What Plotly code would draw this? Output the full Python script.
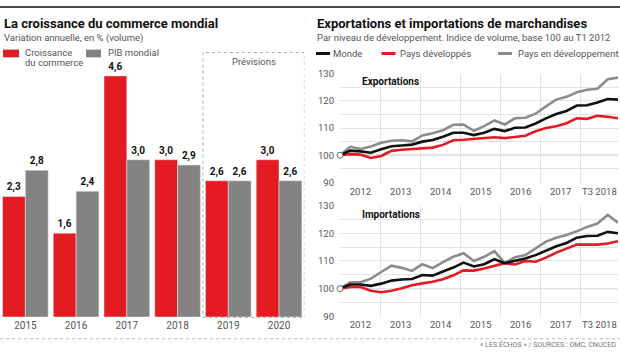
import plotly.graph_objects as go

W, H = 620, 353
def px(x): return x / W
def py(y): return 1 - y / H

# ---------------- DATA ----------------
years = ["2015", "2016", "2017", "2018", "2019", "2020"]
trade_growth = [2.3, 1.6, 4.6, 3.0, 2.6, 3.0]
gdp_growth = [2.8, 2.4, 3.0, 2.9, 2.6, 2.6]

q_index = list(range(28))  # quarters from T1 2012
exp_world = [100, 101.7, 101.4, 100.9, 102.2, 103.3, 103.6, 103.9, 105.0, 105.6, 106.8, 108.3, 108.3, 107.4,
             108.3, 109.7, 108.9, 110.1, 110.2, 111.7, 113.6, 115.2, 116.3, 118.3, 118.4, 119.4, 120.7, 120.5]
exp_dev = [100, 100.4, 100.2, 99.0, 99.7, 101.6, 102.0, 102.3, 102.5, 102.8, 103.8, 105.5, 105.7, 106.0,
           106.1, 106.6, 106.3, 106.7, 107.2, 108.8, 110.0, 110.7, 111.8, 113.6, 113.4, 114.5, 114.2, 113.6]
exp_emg = [100, 103.1, 102.3, 103.2, 104.6, 105.3, 105.5, 105.1, 107.3, 108.1, 109.2, 111.2, 111.3, 109.0,
           110.7, 112.8, 111.3, 113.6, 113.8, 115.3, 118.0, 120.5, 121.5, 123.2, 124.1, 124.5, 128.0, 128.6]

imp_world = [100, 101.5, 101.5, 101.0, 101.8, 102.9, 103.3, 103.5, 104.9, 104.7, 106.2, 107.6, 109.4, 108.0,
             108.8, 110.6, 109.2, 110.0, 110.9, 112.1, 113.8, 115.3, 116.5, 118.4, 119.0, 119.1, 120.5, 120.0]
imp_dev = [100, 100.6, 100.6, 99.2, 98.7, 99.2, 100.1, 101.2, 101.9, 102.5, 103.4, 104.8, 106.6, 106.5,
           107.3, 108.3, 109.2, 108.7, 110.0, 109.7, 111.2, 113.0, 114.5, 115.9, 115.9, 115.9, 116.3, 117.1]
imp_emg = [100, 102.3, 102.3, 103.6, 106.0, 108.3, 107.5, 106.4, 108.8, 107.4, 109.6, 111.5, 112.8, 110.0,
           111.5, 113.5, 109.3, 111.3, 112.1, 114.7, 117.0, 118.4, 119.4, 120.7, 122.3, 123.5, 126.6, 123.8]

year_labels = ["2012", "2013", "2014", "2015", "2016", "2017", "T3 2018"]
year_label_pos = [1.98, 5.9, 9.78, 13.66, 17.55, 21.43, 25.19]
year_grid_pos = [3.95, 7.84, 11.72, 15.6, 19.49, 23.37]
y_ticks = [90, 100, 110, 120, 130]

# ---------------- STYLE ----------------
RED = "#e31b23"
GREY_BAR = "#838383"
GREY_LINE = "#8c8c8c"
BLACK = "#111111"
FONT = "Roboto, sans-serif"
BOLD = "Roboto, sans-serif"
TXT = "#555555"
FS = 9.5

fig = go.Figure()

# Bars
for vals, col in [(trade_growth, RED), (gdp_growth, GREY_BAR)]:
    fig.add_trace(go.Bar(x=years, y=vals, marker_color=col, xaxis="x", yaxis="y",
                         texttemplate="%{y:.1f}", textposition="outside", constraintext="none",
                         cliponaxis=False, textfont=dict(family=BOLD, size=10, color="#111", weight="bold"),
                         showlegend=False))

# Lines
for xa, ya, series in [("x2", "y2", (exp_emg, exp_dev, exp_world)),
                       ("x3", "y3", (imp_emg, imp_dev, imp_world))]:
    for vals, col in zip(series, (GREY_LINE, RED, BLACK)):
        fig.add_trace(go.Scatter(x=q_index, y=vals, mode="lines", line=dict(color=col, width=2.6),
                                 xaxis=xa, yaxis=ya, showlegend=False, cliponaxis=False))
    fig.add_trace(go.Scatter(x=[q_index[0]], y=[series[2][0]], mode="markers", xaxis=xa, yaxis=ya,
                             marker=dict(symbol="circle", size=6, color="white",
                                         line=dict(color="#666", width=1)),
                             showlegend=False, cliponaxis=False))

axis_font = dict(family=FONT, size=FS, color=TXT)

def line_xaxis(dom, anchor):
    return dict(domain=dom, anchor=anchor, range=[0, 27], showgrid=False, zeroline=False,
                showline=False, ticks="", tickmode="array", tickvals=year_label_pos,
                ticktext=year_labels, tickfont=axis_font, ticklabelstandoff=1,
                minor=dict(tickmode="array", tickvals=year_grid_pos, showgrid=True,
                           gridcolor="#e3e3e3", gridwidth=1, ticks=""))

def line_yaxis(dom, anchor, rng):
    return dict(domain=dom, anchor=anchor, range=rng, tickmode="array", tickvals=y_ticks,
                showgrid=True, gridcolor="#e3e3e3", gridwidth=1, zeroline=False, showline=False,
                ticks="", tickfont=axis_font, ticklabelstandoff=5,
                minor=dict(dtick=5, showgrid=True, gridcolor="#e3e3e3", gridwidth=1, ticks=""))

fig.update_layout(
    width=W, height=H, margin=dict(l=0, r=0, t=0, b=0),
    paper_bgcolor="white", plot_bgcolor="rgba(0,0,0,0)",
    separators=", ",
    barmode="group", bargap=0.1, bargroupgap=0,
    xaxis=dict(domain=[0, px(304.4)], anchor="y", type="category", range=[-0.5, 5.5],
               showgrid=False, zeroline=False, showline=False, ticks="",
               tickfont=dict(family=FONT, size=10, color=TXT), ticklabelstandoff=1),
    yaxis=dict(domain=[py(321), py(60)], anchor="x", range=[0, 4.825], visible=False),
    xaxis2=line_xaxis([px(340), px(618)], "y2"),
    yaxis2=line_yaxis([py(183), py(70)], "x2", [89.64, 130]),
    xaxis3=line_xaxis([px(340), px(618)], "y3"),
    yaxis3=line_yaxis([py(321), py(206)], "x3", [89.75, 130]),
    showlegend=False,
)

shapes = []
# top dark rule
shapes.append(dict(type="rect", xref="paper", yref="paper", x0=0, x1=1, y0=py(2), y1=1,
                   fillcolor="#4a4a4a", line_width=0, layer="above"))
# forecast box
shapes.append(dict(type="rect", xref="x", yref="paper", x0=3.5, x1=5.5, y0=py(321.5), y1=py(48),
                   line=dict(color="#b0b0b0", width=1, dash="dot"), fillcolor="rgba(0,0,0,0)"))
# footer dotted rule
shapes.append(dict(type="line", xref="paper", yref="paper", x0=0, x1=1, y0=py(343.5), y1=py(343.5),
                   line=dict(color="#b5b5b5", width=1, dash="dot")))
# baseline 100
for xa, ya in [("x2", "y2"), ("x3", "y3")]:
    shapes.append(dict(type="line", xref=f"{xa} domain", yref=ya, x0=0, x1=1, y0=100, y1=100,
                       line=dict(color="#9a9a9a", width=1), layer="below"))
# left legend swatches
shapes.append(dict(type="rect", xref="paper", yref="paper", x0=px(3), x1=px(19), y0=py(53), y1=py(45),
                   fillcolor=RED, line_width=0))
shapes.append(dict(type="rect", xref="paper", yref="paper", x0=px(86), x1=px(101), y0=py(53), y1=py(45),
                   fillcolor=GREY_BAR, line_width=0))
# right legend lines
for x0, col in [(316, BLACK), (381.5, RED), (498, GREY_LINE)]:
    shapes.append(dict(type="line", xref="paper", yref="paper", x0=px(x0), x1=px(x0 + 14),
                       y0=py(49), y1=py(49), line=dict(color=col, width=3)))

ann = []
def text(x, y, s, size=FS, color=TXT, family=FONT, xanchor="left", weight="normal"):
    ann.append(dict(x=px(x), y=py(y), xref="paper", yref="paper", text=s, showarrow=False,
                    xanchor=xanchor, yanchor="middle",
                    font=dict(family=family, size=size, color=color, weight=weight)))

text(2, 18, "La croissance du commerce mondial", size=13, color="#111", family=BOLD, weight="bold")
text(2, 33, "Variation annuelle, en % (volume)")
text(22.5, 48.5, "Croissance")
text(22.5, 58.5, "du commerce")
text(106, 48.5, "PIB mondial")
text(253.5, 57, "Prévisions", xanchor="center")

text(315, 18, "Exportations et importations de marchandises", size=13, color="#111", family=BOLD, weight="bold")
text(315, 33, "Par niveau de développement. Indice de volume, base 100 au T1 2012")
text(331, 49, "Monde")
text(397.5, 49, "Pays développés")
text(516, 49, "Pays en développement")

text(359.5, 78, "Exportations", size=10, color="#111", family=BOLD, weight="bold")
text(359.5, 215, "Importations", size=10, color="#111", family=BOLD, weight="bold")

text(618, 349.5, "« LES ÉCHOS » / SOURCES : OMC, CNUCED", size=7.1, color="#777", xanchor="right")

fig.update_layout(shapes=shapes, annotations=ann)
fig.write_html("out.html")
